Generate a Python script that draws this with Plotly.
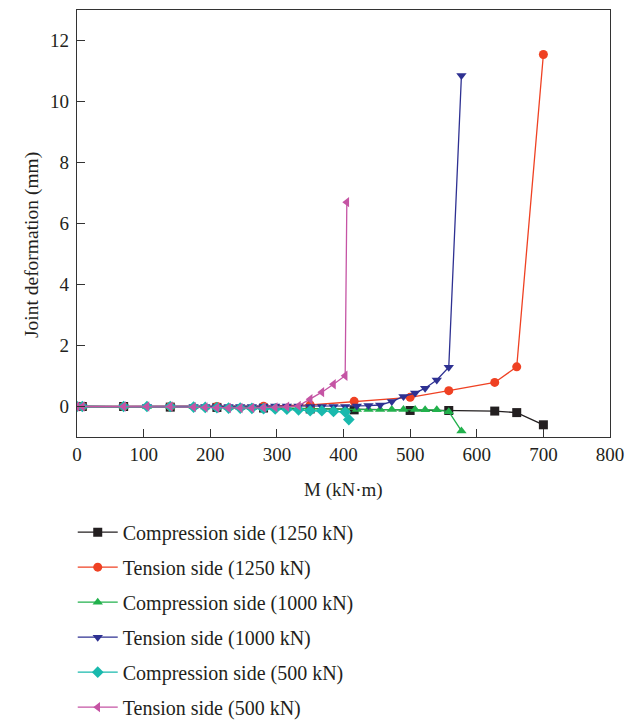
import plotly.graph_objects as go

# ---- data ----
M_1250 = [0, 8, 70, 140, 210, 280, 350, 416, 500, 558, 627, 660, 700]
comp_1250 = [0, 0, 0, -0.02, -0.03, -0.05, -0.08, -0.11, -0.13, -0.13, -0.15, -0.2, -0.6]
tens_1250 = [0, 0, 0, 0, 0, 0.01, 0.05, 0.17, 0.3, 0.52, 0.79, 1.3, 11.54]

M_1000 = [0, 8, 70, 105, 140, 175, 192.5, 210, 227.5, 245, 262.5, 280, 297.5, 315, 332.5,
          350, 367.5, 385, 402.5, 420, 437.5, 455, 472.5, 490, 507.5, 522.5, 540, 558, 577]
comp_1000 = [0, 0, 0, 0, 0, -0.01, -0.02, -0.02, -0.03, -0.03, -0.04, -0.04, -0.05, -0.05, -0.06,
             -0.07, -0.08, -0.08, -0.09, -0.1, -0.1, -0.1, -0.1, -0.1, -0.1, -0.11, -0.11, -0.17, -0.8]
tens_1000 = [0, 0, 0, 0, 0, 0, 0, 0, 0, 0, 0, 0.01, 0.02, 0.02, 0.02,
             0.0, 0.0, 0.0, 0.0, 0.02, 0.03, 0.05, 0.16, 0.33, 0.44, 0.6, 0.87, 1.29, 10.85]

M_500_c = [0, 8, 70, 105, 140, 175, 192.5, 210, 227.5, 245, 262.5, 280, 297.5, 315, 332.5,
           350, 367.5, 385, 402.5, 408]
comp_500 = [0, 0, 0, 0, 0, -0.02, -0.03, -0.04, -0.05, -0.05, -0.06, -0.07, -0.08, -0.09, -0.11,
            -0.14, -0.14, -0.16, -0.18, -0.43]
M_500_t = [0, 8, 70, 105, 140, 175, 192.5, 210, 227.5, 245, 262.5, 280, 297.5, 315, 332.5,
           350, 367.5, 385, 402.5, 405]
tens_500 = [0, 0, 0, 0, 0, -0.02, -0.03, -0.04, -0.05, -0.05, -0.05, -0.04, -0.03, -0.01, 0.02,
            0.24, 0.47, 0.73, 1.01, 6.7]

x_ticks = [0, 100, 200, 300, 400, 500, 600, 700, 800]
y_ticks = [0, 2, 4, 6, 8, 10, 12]

series = [
    ("Compression side (1250 kN)", M_1250, comp_1250, "#231f20", "square"),
    ("Tension side (1250 kN)", M_1250, tens_1250, "#ef4123", "circle"),
    ("Compression side (1000 kN)", M_1000, comp_1000, "#22b14c", "triangle-up"),
    ("Tension side (1000 kN)", M_1000, tens_1000, "#2e3192", "triangle-down"),
    ("Compression side (500 kN)", M_500_c, comp_500, "#19b9ad", "diamond"),
    ("Tension side (500 kN)", M_500_t, tens_500, "#c554a4", "triangle-left"),
]

FONT = "Liberation Serif"
TXT = "#231f20"
fig = go.Figure()
for i, (name, x, y, color, sym) in enumerate(series):
    fig.add_trace(go.Scatter(
        x=x, y=y, name=name, mode="lines+markers", legendgroup=f"g{i}",
        line=dict(color=color, width=1.3),
        marker=dict(symbol=sym, size=9, color=color, line=dict(width=0)),
    ))

axis_common = dict(
    showline=True, linecolor="#333", linewidth=1.2, mirror=True,
    ticks="inside", ticklen=8, tickcolor="#333", tickwidth=1,
    showgrid=False, zeroline=False,
    tickfont=dict(family=FONT, size=19, color=TXT),
)
fig.update_xaxes(range=[0, 800], tickvals=x_ticks, **axis_common)
fig.update_yaxes(range=[-1, 13], tickvals=y_ticks, ticklabelstandoff=3, **axis_common)

fig.add_annotation(text="M (kN·m)", xref="paper", yref="paper", x=0.5, y=-0.124,
                   xanchor="center", yanchor="middle", showarrow=False,
                   font=dict(family=FONT, size=19, color=TXT))
fig.add_annotation(text="Joint deformation (mm)", xref="paper", yref="paper", x=-0.084, y=0.45,
                   xanchor="center", yanchor="middle", showarrow=False, textangle=-90,
                   font=dict(family=FONT, size=19.5, color=TXT))

fig.update_layout(
    width=638, height=720,
    margin=dict(l=77, r=28, t=10, b=283, autoexpand=False),
    paper_bgcolor="white", plot_bgcolor="white",
    legend=dict(x=-0.008, xanchor="left", xref="paper", y=0.288, yanchor="top", yref="container",
                orientation="v",
                font=dict(family=FONT, size=20, color=TXT),
                tracegroupgap=6, itemwidth=40, bgcolor="rgba(0,0,0,0)"),
    showlegend=True,
)
fig.write_html("out.html")
